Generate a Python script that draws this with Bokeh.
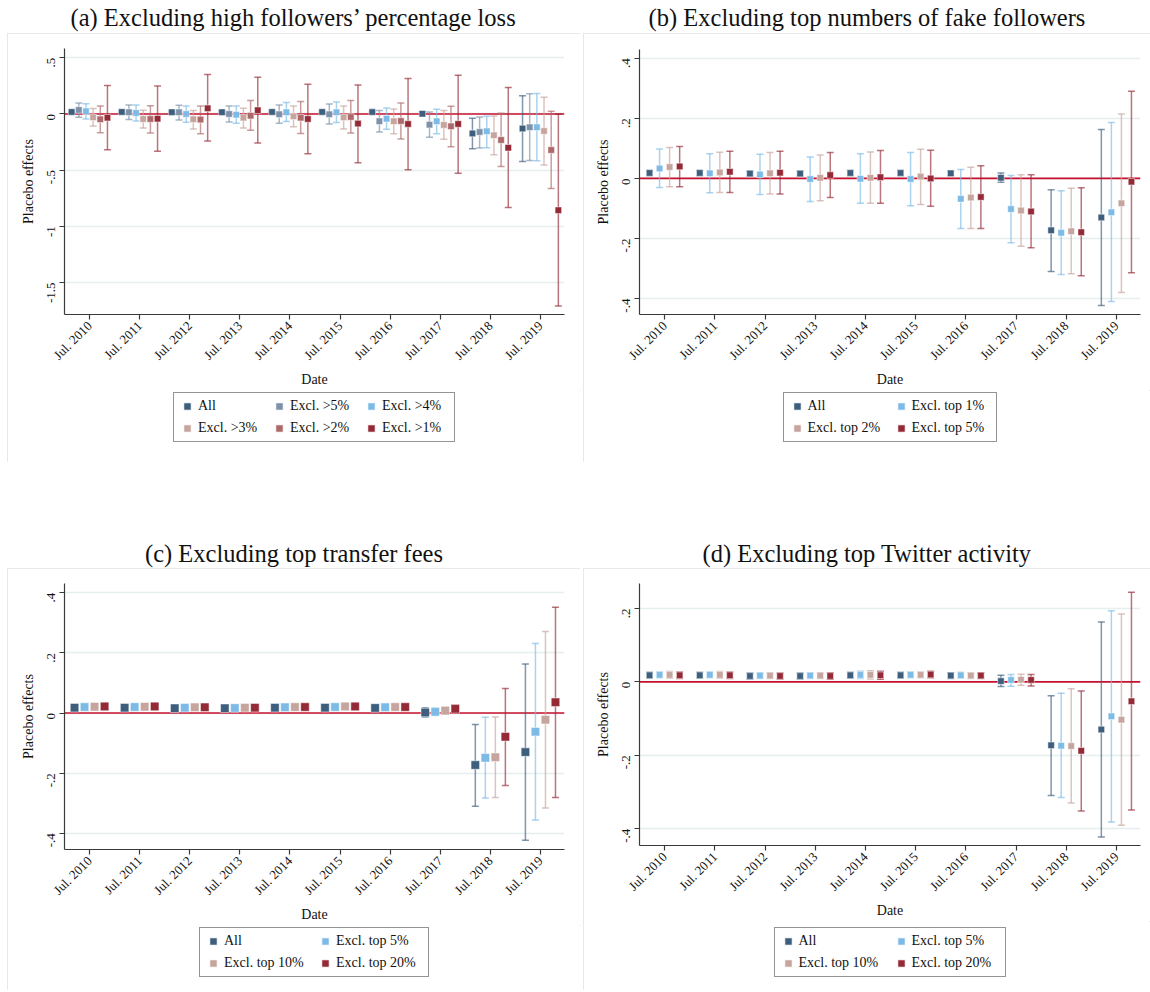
import math
from bokeh.plotting import figure
from bokeh.models import (ColumnDataSource, Whisker, TeeHead, Span, FixedTicker, Spacer,
                          Legend, LegendItem, Label, CustomJSTickFormatter)
from bokeh.layouts import row, column
from bokeh.embed import file_html
from bokeh.resources import INLINE

FONT = "Liberation Serif"

# ---------------- data ----------------
years = [2010, 2011, 2012, 2013, 2014, 2015, 2016, 2017, 2018, 2019]
x_tick_labels = ["Jul. 2010", "Jul. 2011", "Jul. 2012", "Jul. 2013", "Jul. 2014",
                 "Jul. 2015", "Jul. 2016", "Jul. 2017", "Jul. 2018", "Jul. 2019"]

# "All" sample (same in every panel)
all_est = [0.018, 0.018, 0.016, 0.016, 0.018, 0.018, 0.017, 0.002, -0.173, -0.130]
all_lo = [0.010, 0.010, 0.008, 0.008, 0.010, 0.010, 0.009, -0.013, -0.310, -0.423]
all_hi = [0.026, 0.026, 0.024, 0.024, 0.026, 0.026, 0.025, 0.018, -0.038, 0.163]

# (a) Excluding high followers' percentage loss
a_ex5_est = [0.036, 0.015, 0.015, 0.000, -0.003, -0.003, -0.065, -0.095, -0.161, -0.119]
a_ex5_lo = [-0.030, -0.050, -0.054, -0.071, -0.083, -0.089, -0.160, -0.208, -0.304, -0.414]
a_ex5_hi = [0.098, 0.080, 0.077, 0.071, 0.080, 0.089, 0.030, 0.018, -0.027, 0.179]
a_ex4_est = [0.024, 0.009, 0.000, -0.006, 0.015, 0.015, -0.042, -0.065, -0.155, -0.119]
a_ex4_lo = [-0.045, -0.063, -0.074, -0.083, -0.068, -0.077, -0.137, -0.176, -0.301, -0.417]
a_ex4_hi = [0.092, 0.080, 0.071, 0.071, 0.101, 0.107, 0.054, 0.042, -0.021, 0.182]
a_ex3_est = [-0.030, -0.045, -0.048, -0.033, -0.021, -0.030, -0.065, -0.098, -0.190, -0.152]
a_ex3_lo = [-0.107, -0.125, -0.134, -0.125, -0.113, -0.134, -0.176, -0.226, -0.363, -0.455]
a_ex3_hi = [0.048, 0.033, 0.030, 0.050, 0.071, 0.071, 0.045, 0.030, -0.018, 0.149]
a_ex2_est = [-0.048, -0.045, -0.050, -0.015, -0.033, -0.027, -0.063, -0.110, -0.232, -0.321]
a_ex2_lo = [-0.167, -0.170, -0.176, -0.146, -0.173, -0.170, -0.223, -0.292, -0.467, -0.664]
a_ex2_hi = [0.071, 0.074, 0.071, 0.119, 0.110, 0.119, 0.098, 0.068, 0.006, 0.024]
a_ex1_est = [-0.033, -0.042, 0.050, 0.033, -0.045, -0.086, -0.089, -0.089, -0.301, -0.857]
a_ex1_lo = [-0.318, -0.333, -0.241, -0.259, -0.354, -0.435, -0.497, -0.527, -0.833, -1.711]
a_ex1_hi = [0.253, 0.250, 0.351, 0.327, 0.265, 0.259, 0.315, 0.345, 0.235, 0.000]

# (b) Excluding top numbers of fake followers
b_t1_est = [0.033, 0.017, 0.013, -0.002, -0.001, -0.002, -0.068, -0.102, -0.181, -0.113]
b_t1_lo = [-0.030, -0.048, -0.054, -0.077, -0.083, -0.091, -0.167, -0.214, -0.320, -0.410]
b_t1_hi = [0.098, 0.082, 0.080, 0.071, 0.082, 0.086, 0.030, 0.010, -0.041, 0.186]
b_t2_est = [0.038, 0.020, 0.017, 0.002, 0.002, 0.006, -0.064, -0.107, -0.176, -0.083]
b_t2_lo = [-0.028, -0.047, -0.052, -0.074, -0.083, -0.087, -0.167, -0.226, -0.317, -0.380]
b_t2_hi = [0.103, 0.087, 0.086, 0.078, 0.088, 0.097, 0.037, 0.012, -0.033, 0.214]
b_t5_est = [0.040, 0.022, 0.019, 0.011, 0.004, 0.000, -0.062, -0.110, -0.179, -0.011]
b_t5_lo = [-0.028, -0.047, -0.052, -0.064, -0.083, -0.093, -0.167, -0.231, -0.324, -0.314]
b_t5_hi = [0.106, 0.090, 0.090, 0.086, 0.093, 0.094, 0.042, 0.012, -0.031, 0.290]

# (c) Excluding top transfer fees
c_t5_est = [0.020, 0.020, 0.018, 0.017, 0.019, 0.020, 0.019, 0.004, -0.149, -0.062]
c_t5_lo = [0.010, 0.010, 0.008, 0.007, 0.009, 0.010, 0.009, -0.008, -0.283, -0.356]
c_t5_hi = [0.030, 0.030, 0.028, 0.027, 0.029, 0.030, 0.029, 0.016, -0.014, 0.231]
c_t10_est = [0.021, 0.021, 0.019, 0.018, 0.020, 0.022, 0.020, 0.008, -0.147, -0.022]
c_t10_lo = [0.011, 0.011, 0.009, 0.008, 0.010, 0.012, 0.010, -0.004, -0.281, -0.316]
c_t10_hi = [0.031, 0.031, 0.029, 0.028, 0.030, 0.032, 0.030, 0.020, -0.013, 0.271]
c_t20_est = [0.022, 0.022, 0.019, 0.018, 0.020, 0.022, 0.020, 0.014, -0.079, 0.036]
c_t20_lo = [0.012, 0.012, 0.009, 0.008, 0.010, 0.012, 0.010, 0.002, -0.241, -0.281]
c_t20_hi = [0.032, 0.032, 0.029, 0.028, 0.030, 0.032, 0.030, 0.026, 0.082, 0.352]

# (d) Excluding top Twitter activity
d_t5_est = [0.019, 0.019, 0.017, 0.017, 0.019, 0.019, 0.018, 0.005, -0.174, -0.094]
d_t5_lo = [0.011, 0.011, 0.009, 0.009, 0.009, 0.011, 0.010, -0.012, -0.315, -0.382]
d_t5_hi = [0.027, 0.027, 0.025, 0.025, 0.029, 0.027, 0.026, 0.020, -0.031, 0.194]
d_t10_est = [0.019, 0.019, 0.017, 0.017, 0.019, 0.019, 0.017, 0.006, -0.175, -0.103]
d_t10_lo = [0.010, 0.010, 0.009, 0.009, 0.008, 0.011, 0.009, -0.009, -0.330, -0.391]
d_t10_hi = [0.028, 0.028, 0.025, 0.025, 0.030, 0.027, 0.025, 0.021, -0.019, 0.185]
d_t20_est = [0.018, 0.018, 0.016, 0.016, 0.018, 0.020, 0.017, 0.005, -0.188, -0.053]
d_t20_lo = [0.009, 0.009, 0.008, 0.007, 0.007, 0.011, 0.009, -0.011, -0.352, -0.349]
d_t20_hi = [0.027, 0.027, 0.024, 0.025, 0.029, 0.029, 0.025, 0.020, -0.025, 0.244]

a_yticks = [0.5, 0, -0.5, -1, -1.5]
bcd_yticks = [0.4, 0.2, 0, -0.2, -0.4]
d_yticks = [0.2, 0, -0.2, -0.4]

# ---------------- style ----------------
C_ALL = "#3d5e7c"
C_EX5 = "#7d91a8"
C_LBLUE = "#7dbbe6"
C_BEIGE = "#c6a59e"
C_MID = "#ad6869"
C_DARK = "#932a36"
ZERO_RED = "#c8102e"
GRID = "#e6eff0"
AXIS = "#3a3a3a"

yfmt_code = """
const v = Math.round(tick * 10) / 10;
if (Math.abs(v) < 1e-9) { return "0"; }
let s = String(v);
s = s.replace(/^(-?)0\\./, "$1.");
return s;
"""


def bare_figure(width, height, bl=0, br=0, bt=0, bb=0):
    f = figure(width=width, height=height, min_border_left=bl, min_border_right=br,
               min_border_top=bt, min_border_bottom=bb,
               x_axis_type=None, y_axis_type=None,
               x_range=(0, 1), y_range=(0, 1), output_backend="svg", toolbar_location=None)
    f.outline_line_color = None
    f.grid.visible = False
    f.border_fill_color = "white"
    f.background_fill_color = "white"
    return f


def make_title(text, width, height, y_center_from_bottom):
    t = bare_figure(width, height)
    t.add_layout(Label(x=width / 2.0, y=y_center_from_bottom, x_units="screen", y_units="screen",
                       text=text, text_align="center", text_baseline="middle",
                       text_font=FONT, text_font_size="24.5px", text_color="#111111"))
    return t


def make_legend(series, width, height, bl, br, bt, bb, label_width):
    f = bare_figure(width, height, bl, br, bt, bb)
    items = []
    for label, color, est, lo, hi in series:
        # one point placed outside the visible range so only the legend glyph shows
        r = f.scatter(x=[-5], y=[-5], marker="square", size=7,
                      fill_color=color, line_color="white", line_width=0.6)
        items.append(LegendItem(label=label, renderers=[r]))
    ncols = 3 if len(series) == 6 else 2
    leg = Legend(items=items, location="center", orientation="horizontal", ncols=ncols)
    leg.label_text_font = FONT
    leg.label_text_font_size = "14px"
    leg.label_text_color = "#111111"
    leg.glyph_width = 18
    leg.glyph_height = 18
    leg.label_height = 18
    leg.label_width = label_width
    leg.label_standoff = 2
    leg.spacing = 4
    leg.padding = 4
    leg.margin = 0
    leg.border_line_color = "#2a2a2a"
    leg.border_line_width = 1.3
    leg.background_fill_color = "white"
    leg.background_fill_alpha = 1
    f.add_layout(leg)
    return f


def make_panel(series, step, yticks, yrange, fw, fh, bl, br, bt, bb, msize):
    p = figure(frame_width=fw, frame_height=fh, min_border_left=bl, min_border_right=br,
               min_border_top=bt, min_border_bottom=bb,
               x_range=(2009.5, 2019.48), y_range=yrange,
               output_backend="svg", toolbar_location=None)
    p.outline_line_color = None
    p.background_fill_color = "white"
    p.border_fill_color = "white"

    p.add_layout(Span(location=0, dimension="width", line_color=ZERO_RED,
                      line_width=1.6, level="underlay"))

    n = len(series)
    srcs = []
    for k, (label, color, est, lo, hi) in enumerate(series):
        off = (k - (n - 1) / 2.0) * step
        xs = [y + off for y in years]
        src = ColumnDataSource(dict(x=xs, est=est, lo=lo, hi=hi))
        w = Whisker(base="x", upper="hi", lower="lo", source=src,
                    line_color=color, line_alpha=0.65, line_width=1.5,
                    upper_head=TeeHead(size=7, line_color=color, line_alpha=0.65, line_width=1.5),
                    lower_head=TeeHead(size=7, line_color=color, line_alpha=0.65, line_width=1.5))
        p.add_layout(w)
        srcs.append((color, src))
    for color, src in srcs:
        p.scatter("x", "est", source=src, marker="square", size=msize,
                  fill_color=color, line_color="white", line_width=0.6, line_alpha=0.8)

    p.xaxis.ticker = FixedTicker(ticks=years)
    p.xaxis.major_label_overrides = {y: lab for y, lab in zip(years, x_tick_labels)}
    p.xaxis.major_label_orientation = math.pi / 4
    p.yaxis.ticker = FixedTicker(ticks=yticks)
    p.yaxis.formatter = CustomJSTickFormatter(code=yfmt_code)
    p.yaxis.major_label_orientation = math.pi / 2
    for ax in (p.xaxis[0], p.yaxis[0]):
        ax.axis_line_color = AXIS
        ax.axis_line_width = 1.2
        ax.major_tick_line_color = AXIS
        ax.major_tick_line_width = 1.2
        ax.major_tick_out = 5
        ax.major_tick_in = 0
        ax.minor_tick_line_color = None
        ax.major_label_text_font = FONT
        ax.major_label_text_font_size = "13px"
        ax.major_label_text_color = "#111111"
        ax.axis_label_text_font = FONT
        ax.axis_label_text_font_size = "14px"
        ax.axis_label_text_font_style = "normal"
        ax.axis_label_text_color = "#111111"
    p.xaxis.axis_label = "Date"
    p.yaxis.axis_label = "Placebo effects"
    p.xaxis.major_label_standoff = 4
    p.yaxis.major_label_standoff = 8
    p.xaxis.axis_label_standoff = 1
    p.yaxis.axis_label_standoff = 5

    p.xgrid.visible = False
    p.ygrid.grid_line_color = GRID
    p.ygrid.grid_line_width = 1.5
    return p


BOX = {"outline": "1px solid #e2e2e2", "outline-offset": "-1px"}

series_a = [("All", C_ALL, all_est, all_lo, all_hi),
            ("Excl. >5%", C_EX5, a_ex5_est, a_ex5_lo, a_ex5_hi),
            ("Excl. >4%", C_LBLUE, a_ex4_est, a_ex4_lo, a_ex4_hi),
            ("Excl. >3%", C_BEIGE, a_ex3_est, a_ex3_lo, a_ex3_hi),
            ("Excl. >2%", C_MID, a_ex2_est, a_ex2_lo, a_ex2_hi),
            ("Excl. >1%", C_DARK, a_ex1_est, a_ex1_lo, a_ex1_hi)]
series_b = [("All", C_ALL, all_est, all_lo, all_hi),
            ("Excl. top 1%", C_LBLUE, b_t1_est, b_t1_lo, b_t1_hi),
            ("Excl. top 2%", C_BEIGE, b_t2_est, b_t2_lo, b_t2_hi),
            ("Excl. top 5%", C_DARK, b_t5_est, b_t5_lo, b_t5_hi)]
series_c = [("All", C_ALL, all_est, all_lo, all_hi),
            ("Excl. top 5%", C_LBLUE, c_t5_est, c_t5_lo, c_t5_hi),
            ("Excl. top 10%", C_BEIGE, c_t10_est, c_t10_lo, c_t10_hi),
            ("Excl. top 20%", C_DARK, c_t20_est, c_t20_lo, c_t20_hi)]
series_d = [("All", C_ALL, all_est, all_lo, all_hi),
            ("Excl. top 5%", C_LBLUE, d_t5_est, d_t5_lo, d_t5_hi),
            ("Excl. top 10%", C_BEIGE, d_t10_est, d_t10_lo, d_t10_hi),
            ("Excl. top 20%", C_DARK, d_t20_est, d_t20_lo, d_t20_hi)]

# panel (a): column width 573, frame 64..564 / 48..314
ta = make_title("(a) Excluding high followers\u2019 percentage loss", 573, 33, 16)
pa = make_panel(series_a, 0.143, a_yticks, (-1.786, 0.583), 500, 266, 57, 16, 15, 76, 6.5)
la = make_legend(series_a, 573, 72, 57, 16, 0, 18, 68)
# panel (b): column width 567, frame 639..1140 / 49..314
tb = make_title("(b) Excluding top numbers of fake followers", 567, 33, 16)
pb = make_panel(series_b, 0.2, bcd_yticks, (-0.453, 0.429), 501, 265, 56, 10, 16, 76, 6.5)
lb = make_legend(series_b, 567, 72, 56, 10, 0, 18, 80)
# panel (c)
tc = make_title("(c) Excluding top transfer fees", 573, 106, 15)
pc = make_panel(series_c, 0.2, bcd_yticks, (-0.454, 0.431), 500, 266, 57, 16, 15, 76, 8.5)
lc = make_legend(series_c, 573, 65, 57, 16, 0, 11, 88)
# panel (d)
td = make_title("(d) Excluding top Twitter activity", 567, 106, 15)
pd_ = make_panel(series_d, 0.2, d_yticks, (-0.446, 0.268), 501, 262, 56, 10, 15, 76, 6.5)
ld = make_legend(series_d, 567, 69, 56, 10, 3, 11, 89)

layout = column(
    row(Spacer(width=7, height=10), column(ta, column(pa, la, styles=BOX)),
        Spacer(width=3, height=10), column(tb, column(pb, lb, styles=BOX))),
    row(Spacer(width=7, height=10), column(tc, column(pc, lc, styles=BOX)),
        Spacer(width=3, height=10), column(td, column(pd_, ld, styles=BOX))),
)
open("out.html", "w").write(file_html(layout, INLINE))
